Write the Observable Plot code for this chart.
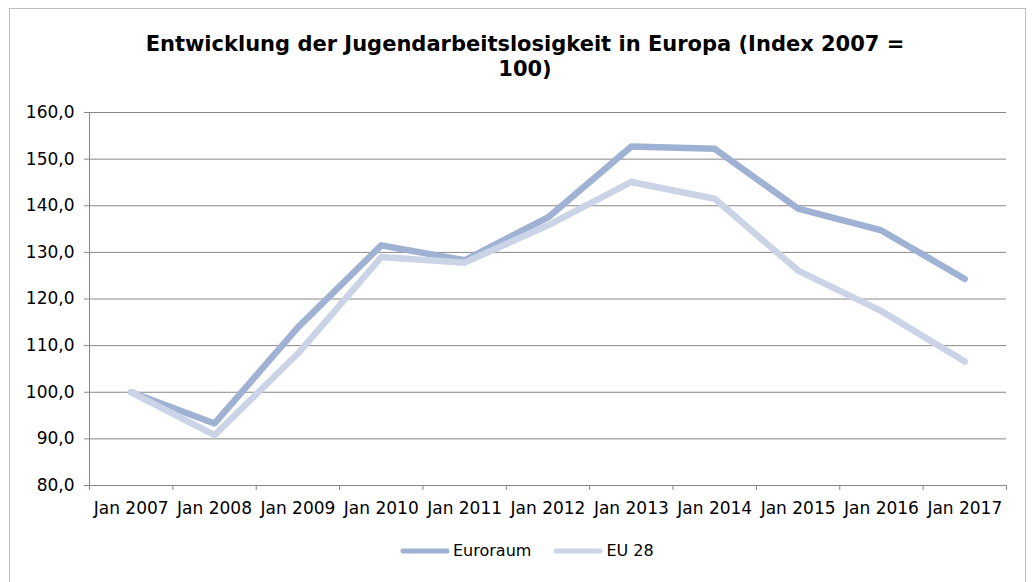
<!DOCTYPE html>
<html><head><meta charset="utf-8">
<script src="https://cdn.jsdelivr.net/npm/d3@7"></script>
<script src="https://cdn.jsdelivr.net/npm/@observablehq/plot@0.6"></script>
<style>
body{margin:0;background:#fff;font-family:"DejaVu Sans",Verdana,sans-serif;}
#wrap{position:relative;width:1032px;height:582px;overflow:hidden;background:#fff;}
#frame{position:absolute;left:9px;top:8px;width:1015px;height:620px;border:1px solid #bfbfbf;}
#title{position:absolute;left:0;top:32px;width:1050px;text-align:center;font-weight:bold;font-size:21px;line-height:25px;color:#000;}
#chart{position:absolute;left:0;top:100px;}
#legend{position:absolute;top:541px;left:400px;display:flex;align-items:center;font-size:16px;color:#000;}
#legend .item{display:flex;align-items:center;margin-right:22px;}
#legend svg{margin-right:3px;}
</style>
</head><body>
<div id="wrap">
  <div id="frame"></div>
  <div id="title">Entwicklung der Jugendarbeitslosigkeit in Europa (Index 2007 =<br>100)</div>
  <div id="chart"></div>
  <div id="legend"></div>
</div>
<script>
const years = ["Jan 2007","Jan 2008","Jan 2009","Jan 2010","Jan 2011","Jan 2012","Jan 2013","Jan 2014","Jan 2015","Jan 2016","Jan 2017"];
const euroraum = [100.0, 93.3, 113.9, 131.5, 128.3, 137.5, 152.7, 152.2, 139.4, 134.7, 124.3];
const eu28 = [100.0, 90.8, 108.3, 129.0, 127.8, 135.8, 145.1, 141.5, 126.1, 117.4, 106.6];
const seriesNames = ["Euroraum", "EU 28"];
const seriesColors = ["#9fb2d3", "#cbd4e6"];
const yTicks = [80, 90, 100, 110, 120, 130, 140, 150, 160];

const n = years.length;
const data = [];
[euroraum, eu28].forEach((vals, s) => {
  vals.forEach((v, i) => data.push({i, series: seriesNames[s], v}));
});
const idx = d3.range(n);
const bounds = d3.range(n + 1).map(i => i - 0.5);
const gray = "#878787";

const plot = Plot.plot({
  width: 1032, height: 420,
  marginTop: 12, marginBottom: 35, marginLeft: 89, marginRight: 26,
  style: {fontFamily: '"DejaVu Sans", Verdana, sans-serif', fontSize: "17px", color: "#000", background: "transparent"},
  x: {type: "linear", domain: [bounds[0], bounds[n]], axis: null},
  y: {domain: [yTicks[0], yTicks[yTicks.length - 1]], axis: null},
  color: {domain: seriesNames, range: seriesColors},
  marks: [
    Plot.gridY(yTicks, {stroke: gray, strokeOpacity: 1, strokeWidth: 1}),
    Plot.ruleX([bounds[0]], {stroke: gray, strokeWidth: 1}),
    Plot.axisY(yTicks, {label: null, tickSize: 5, tickPadding: 10, stroke: gray, tickFormat: d => d.toFixed(1).replace(".", ",")}),
    Plot.axisX(bounds, {label: null, tickSize: 5, stroke: gray, tickFormat: () => ""}),
    Plot.axisX(idx, {label: null, tickSize: 0, tickPadding: 16, tickFormat: i => years[i]}),
    Plot.line(data, {x: "i", y: "v", z: "series", stroke: "series", strokeWidth: 6.5, strokeLinecap: "round", strokeLinejoin: "round"})
  ]
});
document.getElementById("chart").appendChild(plot);

const legend = document.getElementById("legend");
seriesNames.forEach((name, s) => {
  const item = document.createElement("div");
  item.className = "item";
  item.innerHTML = `<svg width="50" height="10"><line x1="3" y1="5" x2="47" y2="5" stroke="${seriesColors[s]}" stroke-width="5" stroke-linecap="round"/></svg><span>${name}</span>`;
  legend.appendChild(item);
});
</script>
</body></html>
